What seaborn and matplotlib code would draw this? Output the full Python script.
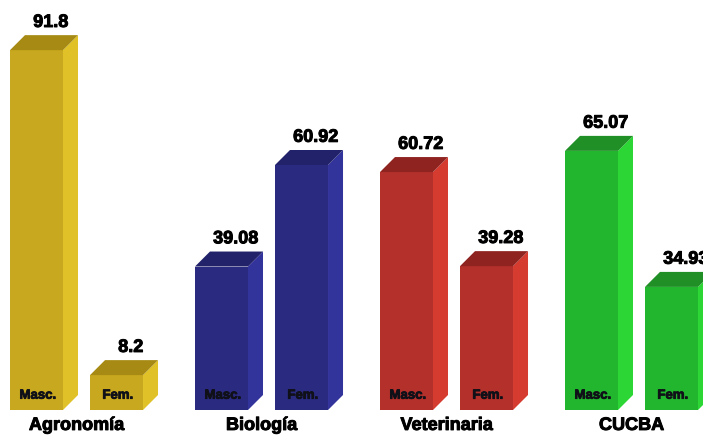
import matplotlib
matplotlib.use("Agg")
import matplotlib.pyplot as plt
import matplotlib.patheffects as pe
import pandas as pd
import seaborn as sns
from matplotlib.patches import Polygon

categories = ["Agronomía", "Biología", "Veterinaria", "CUCBA"]
sexes = ["Masc.", "Fem."]
masc_labels = ["91.8", "39.08", "60.72", "65.07"]
fem_labels = ["8.2", "60.92", "39.28", "34.93"]
# Drawn bar heights; the original's bars are not
# exactly proportional to the numbers printed above them.
masc_heights = [91.8, 36.6, 60.7, 66.1]
fem_heights = [8.9, 62.5, 36.7, 31.4]
front_colors = ["#C8A81E", "#2A2A80", "#B3302B", "#22B52E"]
side_colors = ["#E0C228", "#33339C", "#D63B30", "#2CD634"]
top_colors = ["#A68A14", "#22226A", "#8E2320", "#1F8F26"]

df = pd.DataFrame({
    "cat": categories * 2,
    "sex": [sexes[0]] * 4 + [sexes[1]] * 4,
    "h": masc_heights + fem_heights,
})

W, H, BASE, PX_X, PX_Y, DEPTH = 703, 437, 410, 185, 3.92, 15
sns.set_style("white")
plt.rcParams["font.family"] = ["Liberation Sans", "DejaVu Sans"]
heavy = [pe.withStroke(linewidth=0.7, foreground="black")]
heavy_small = [pe.withStroke(linewidth=0.6, foreground="#101018")]

fig = plt.figure(figsize=(W / 100, H / 100), dpi=100)
ax = fig.add_axes([0, (H - BASE) / H, 1, BASE / H])
sns.barplot(data=df, x="cat", y="h", hue="sex", order=categories, hue_order=sexes,
            width=0.865, gap=0.3375, dodge=True, legend=False, ax=ax,
            errorbar=None, linewidth=0)
ax.set_xlim(-76.5 / PX_X, (W - 76.5) / PX_X)
ax.set_ylim(0, BASE / PX_Y)
dx, dy = DEPTH / PX_X, DEPTH / PX_Y

bars = [p for c in ax.containers for p in c.patches]
texts = masc_labels + fem_labels
for i, bar in enumerate(bars):
    g = i % 4
    x0, w, h = bar.get_x(), bar.get_width(), bar.get_height()
    x1 = x0 + w
    bar.set_facecolor(front_colors[g])
    ax.add_patch(Polygon([(x1, 0), (x1 + dx, dy), (x1 + dx, h + dy), (x1, h)],
                         fc=side_colors[g], ec="none", clip_on=False))
    ax.add_patch(Polygon([(x0, h), (x0 + dx, h + dy), (x1 + dx, h + dy), (x1, h)],
                         fc=top_colors[g], ec="none", clip_on=False))
    ax.annotate(texts[i], (x0 + w / 2 + dx * 0.95, h + dy), xytext=(0, 3),
                textcoords="offset points", ha="center", va="bottom",
                fontsize=13, fontweight="bold", color="black", path_effects=heavy)
    ax.annotate(sexes[i // 4], (x0 + w / 2, 0), xytext=(1, 6),
                textcoords="offset points", ha="center", va="bottom",
                fontsize=9.5, fontweight="bold", color="#101018", path_effects=heavy_small)

ax.set_xlabel("")
ax.set_ylabel("")
ax.set_yticks([])
ax.set_xticks(range(4), categories, fontsize=13, fontweight="bold", color="black")
ax.tick_params(axis="x", length=0, pad=5)
for lab in ax.get_xticklabels():
    lab.set_path_effects(heavy)
sns.despine(ax=ax, left=True, bottom=True)
fig.savefig("out.png", dpi=100, facecolor="white")
